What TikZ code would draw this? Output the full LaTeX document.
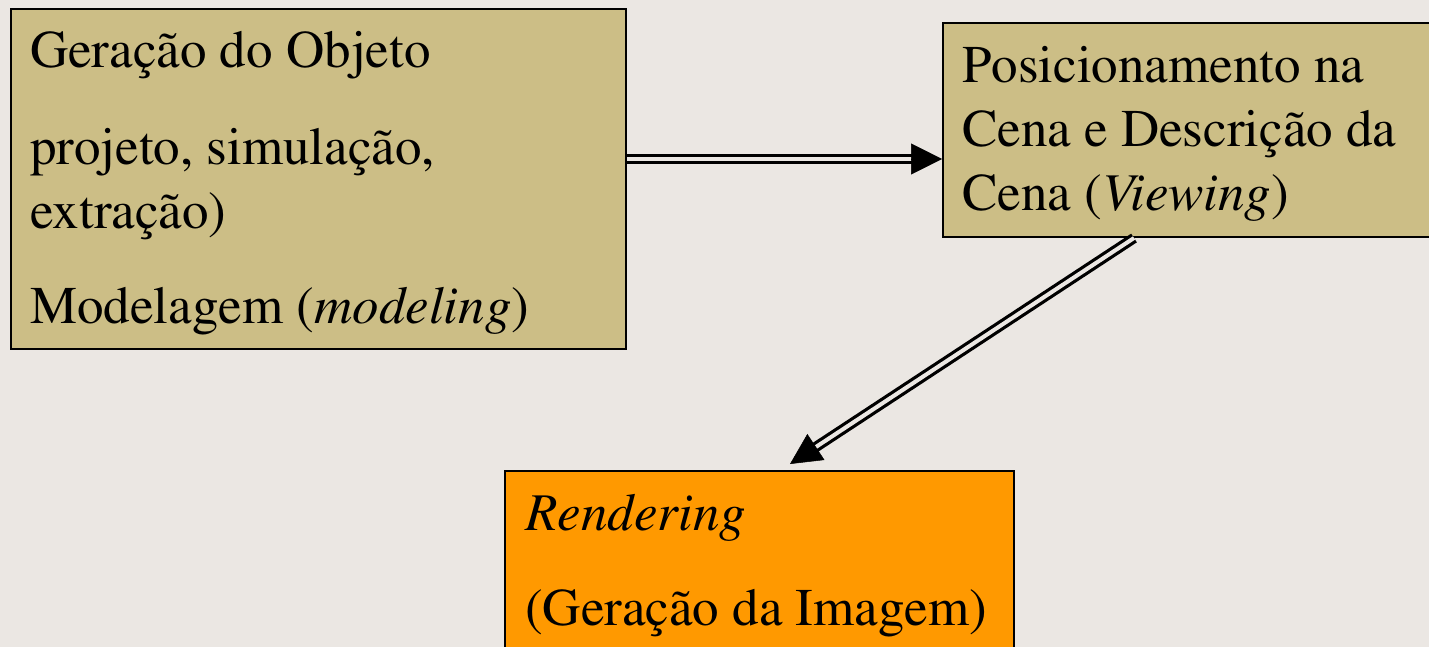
\documentclass[tikz,border=0pt]{standalone}
\usepackage[T1]{fontenc}
\usepackage{times}
\usetikzlibrary{arrows.meta,calc}
\definecolor{paper}{RGB}{235,231,227}
\definecolor{tan}{RGB}{204,190,134}
\definecolor{amber}{RGB}{255,153,0}
\tikzset{
  stagebox/.style={draw=black, line width=2pt, inner sep=0pt, anchor=north west},
  txt/.style={anchor=base west, inner sep=0pt, font=\rmfamily\fontsize{53pt}{64pt}\selectfont},
  shaft/.style={line width=3.2pt, double=paper, double distance=4pt},
  head/.style={line width=0.5pt, -{Triangle[length=31pt,width=31pt]}}
}
\begin{document}
\begin{tikzpicture}[x=1pt,y=-1pt]
  \useasboundingbox (0,0) rectangle (1429,647);
  \fill[paper] (0,0) rectangle (1429,647);

  % stage boxes
  \node[stagebox, fill=tan, minimum width=615pt, minimum height=340pt] (obj) at (10,8) {};
  \node[stagebox, fill=tan, minimum width=500pt, minimum height=214pt] (scene) at (942,22) {};
  \node[stagebox, fill=amber, minimum width=509pt, minimum height=200pt] (render) at (504,470) {};

  % texts
  \node[txt] (o1) at (30,68)  {Geração do Objeto};
  \node[txt] (o2) at (30,165) {projeto, simulação,};
  \node[txt] (o3) at (30,228) {extração)};
  \node[txt] (o4) at (30,323) {Modelagem (\textit{modeling})};

  \node[txt] (s1) at (962,83)  {Posicionamento na};
  \node[txt] (s2) at (962,147) {Cena e Descrição da};
  \node[txt] (s3) at (962,211) {Cena (\textit{Viewing})};

  \node[txt] (r1) at (525,530) {\textit{Rendering}};
  \node[txt] (r2) at (525,625) {(Geração da Imagem)};

  % connector: object -> scene
  \coordinate (a1s) at ($(obj.north east)+(0,151)$);
  \coordinate (a1e) at ($(scene.north west)+(0,137)$);
  \draw[shaft, shorten >=27pt] (a1s) -- (a1e);
  \draw[head] ($(a1e)!31pt!(a1s)$) -- (a1e);

  % connector: scene -> rendering
  \coordinate (a2s) at ($(scene.south west)+(192,0)$);
  \coordinate (a2e) at ($(render.north west)+(286,-6)$);
  \draw[shaft, shorten >=27pt] (a2s) -- (a2e);
  \draw[head] ($(a2e)!31pt!(a2s)$) -- (a2e);
\end{tikzpicture}
\end{document}
